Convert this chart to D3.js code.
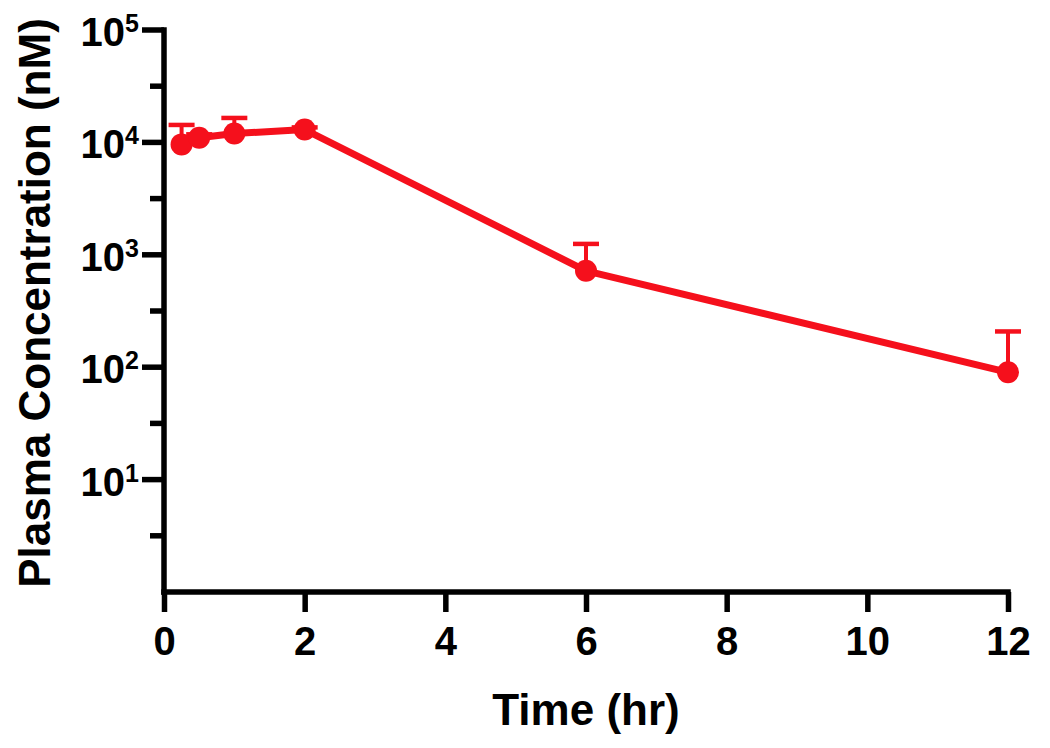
<!DOCTYPE html>
<html>
<head>
<meta charset="utf-8">
<script src="https://cdn.jsdelivr.net/npm/d3@7"></script>
<style>
  body { margin: 0; background: #fff; }
  svg text { font-family: "Liberation Sans", Arial, Helvetica, sans-serif; font-weight: bold; fill: #000; }
</style>
</head>
<body>
<div id="chart"></div>
<script>
// time points (hr), mean concentration (nM) and mean + SD
var times = [0.25, 0.5, 1, 2, 6, 12],
    conc = [9600, 11000, 12000, 13000, 720, 90],
    upper = [14300, 11800, 16500, 13600, 1250, 208];

var xTicks = [0, 2, 4, 6, 8, 10, 12],
    yMajor = [1e1, 1e2, 1e3, 1e4, 1e5],
    yMinor = [Math.pow(10, 0.5), Math.pow(10, 1.5), Math.pow(10, 2.5), Math.pow(10, 3.5), Math.pow(10, 4.5)];

var red = '#f5101c';

var width = 1050,
    height = 748;

var x = d3.scaleLinear().domain([0, 12]).range([164, 1008]);
var y = d3.scaleLog().domain([1, 1e5]).range([592, 30]);

var data = times.map((t, i) => ({ time: t, value: conc[i], hi: upper[i] }));

var svg = d3.select('#chart')
    .append('svg')
    .attr('width', width)
    .attr('height', height);

// x axis
var xAxis = d3.axisBottom(x)
    .tickValues(xTicks)
    .tickSize(20)
    .tickSizeOuter(0)
    .tickPadding(4)
    .tickFormat(d3.format('d'));

var gx = svg.append('g')
    .attr('transform', 'translate(0,' + y(1) + ')')
    .call(xAxis);

gx.select('.domain').attr('stroke', '#000').attr('stroke-width', 5.5)
    .attr('d', 'M' + (x(0) - 2.75) + ',0H' + (x(12) + 2.75));
gx.selectAll('.tick line').attr('stroke', '#000').attr('stroke-width', 5.5);
gx.selectAll('.tick text')
    .attr('font-size', 40)
    .attr('dy', null)
    .attr('y', 63);

// y axis
var gy = svg.append('g')
    .attr('transform', 'translate(' + x(0) + ',0)');

gy.append('line')
    .attr('x1', 0).attr('x2', 0)
    .attr('y1', y(1e5) - 2.75).attr('y2', y(1) + 2.75)
    .attr('stroke', '#000').attr('stroke-width', 5.5);

gy.selectAll('.major')
    .data(yMajor)
    .enter().append('line')
    .attr('class', 'major')
    .attr('x1', -22).attr('x2', 0)
    .attr('y1', (d) => y(d)).attr('y2', (d) => y(d))
    .attr('stroke', '#000').attr('stroke-width', 5.5);

gy.selectAll('.minor')
    .data(yMinor)
    .enter().append('line')
    .attr('class', 'minor')
    .attr('x1', -14).attr('x2', 0)
    .attr('y1', (d) => y(d)).attr('y2', (d) => y(d))
    .attr('stroke', '#000').attr('stroke-width', 5.5);

var labels = gy.selectAll('.ylabel')
    .data(yMajor)
    .enter().append('text')
    .attr('class', 'ylabel')
    .attr('text-anchor', 'end')
    .attr('x', -25)
    .attr('y', (d) => y(d) + 16)
    .attr('font-size', 40);

labels.append('tspan').text('10');
labels.append('tspan')
    .attr('font-size', 25)
    .attr('dy', -14)
    .text((d) => Math.round(Math.log10(d)));

// axis titles
svg.append('text')
    .attr('text-anchor', 'middle')
    .attr('x', 586)
    .attr('y', 725)
    .attr('font-size', 44)
    .text('Time (hr)');

svg.append('text')
    .attr('text-anchor', 'middle')
    .attr('transform', 'translate(50,303) rotate(-90)')
    .attr('font-size', 44)
    .text('Plasma Concentration (nM)');

// error bars (upper only)
var err = svg.append('g');
err.selectAll('.stem')
    .data(data)
    .enter().append('line')
    .attr('x1', (d) => x(d.time)).attr('x2', (d) => x(d.time))
    .attr('y1', (d) => y(d.value)).attr('y2', (d) => y(d.hi))
    .attr('stroke', red).attr('stroke-width', 4);
err.selectAll('.cap')
    .data(data)
    .enter().append('line')
    .attr('x1', (d) => x(d.time) - 13).attr('x2', (d) => x(d.time) + 13)
    .attr('y1', (d) => y(d.hi)).attr('y2', (d) => y(d.hi))
    .attr('stroke', red).attr('stroke-width', 4.5);

// mean line
var valueLine = d3.line()
    .x((d) => x(d.time))
    .y((d) => y(d.value));

svg.append('path')
    .datum(data)
    .attr('d', valueLine)
    .attr('fill', 'none')
    .attr('stroke', red)
    .attr('stroke-width', 7)
    .attr('stroke-linejoin', 'round');

svg.selectAll('.dot')
    .data(data)
    .enter().append('circle')
    .attr('cx', (d) => x(d.time))
    .attr('cy', (d) => y(d.value))
    .attr('r', 11)
    .attr('fill', red);
</script>
</body>
</html>
